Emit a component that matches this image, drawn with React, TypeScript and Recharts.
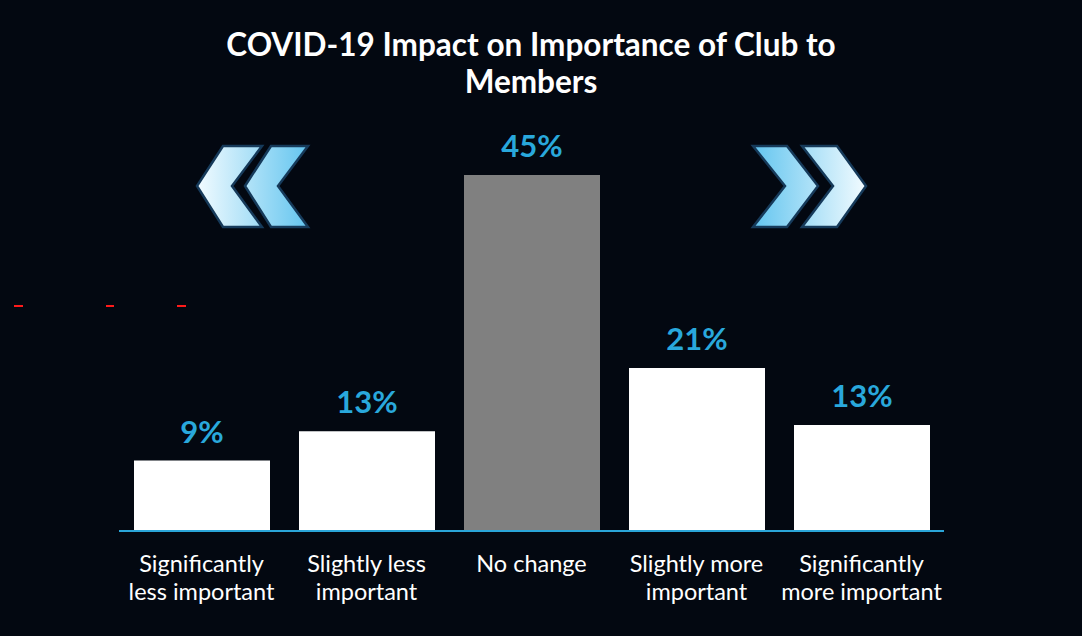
import React from "react";
import { BarChart, Bar, XAxis, YAxis, LabelList, Cell } from "recharts";

const categories = [
  "Significantly less important",
  "Slightly less important",
  "No change",
  "Slightly more important",
  "Significantly more important",
];
const categoryLines: string[][] = [
  ["Significantly", "less important"],
  ["Slightly less", "important"],
  ["No change"],
  ["Slightly more", "important"],
  ["Significantly", "more important"],
];
const values = [8.9, 12.6, 45.0, 20.6, 13.4];
const labels = ["9%", "13%", "45%", "21%", "13%"];
const barColors = ["#ffffff", "#ffffff", "#808080", "#ffffff", "#ffffff"];

const data = categories.map((c, i) => ({ name: c, value: values[i], label: labels[i] }));

const BG = "#030811";

const Tick = (props: any) => {
  const { x, y, payload } = props;
  const idx = categories.indexOf(payload.value);
  const lines = idx >= 0 ? categoryLines[idx] : [payload.value];
  return (
    <g transform={`translate(${x},${y})`}>
      {lines.map((l, i) => (
        <text
          key={i}
          x={0}
          y={33 + i * 28}
          textAnchor="middle"
          fill="#ffffff"
          fontSize={23.5}
          fontFamily="Lato, sans-serif"
        >
          {l}
        </text>
      ))}
    </g>
  );
};

export default function App() {
  return (
    <div
      style={{
        position: "absolute",
        left: 0,
        top: 0,
        width: 1082,
        height: 636,
        background: BG,
        overflow: "hidden",
      }}
    >
      <svg
        width={1082}
        height={636}
        style={{ position: "absolute", left: 0, top: 0 }}
      >
        <defs>
          <linearGradient id="gl" x1="197" y1="0" x2="308" y2="0" gradientUnits="userSpaceOnUse">
            <stop offset="0" stopColor="#f2fbff" />
            <stop offset="1" stopColor="#63c5ef" />
          </linearGradient>
          <linearGradient id="gr" x1="753" y1="0" x2="866" y2="0" gradientUnits="userSpaceOnUse">
            <stop offset="0" stopColor="#63c5ef" />
            <stop offset="1" stopColor="#f2fbff" />
          </linearGradient>
        </defs>
        <text x={531} y={56} textAnchor="middle" fill="#ffffff" fontSize={31.5} fontWeight={700} fontFamily="Lato, sans-serif">
          COVID-19 Impact on Importance of Club to
        </text>
        <text x={531} y={93} textAnchor="middle" fill="#ffffff" fontSize={31.5} fontWeight={700} fontFamily="Lato, sans-serif">
          Members
        </text>
        <g stroke="#163a5a" strokeWidth={2.5} strokeLinejoin="miter">
          <polygon points="197,186 223,146 262,146 232,186 262,227 223,227" fill="url(#gl)" />
          <polygon points="245,186 271,146 308,146 278,186 308,227 271,227" fill="url(#gl)" />
          <polygon points="753,146 787,146 818,186 787,227 753,227 785,186" fill="url(#gr)" />
          <polygon points="802,146 837,146 866,186 837,227 802,227 833,186" fill="url(#gr)" />
        </g>
        <g stroke="#ff1a1a" strokeWidth={2}>
          <line x1={14} y1={306} x2={23} y2={306} />
          <line x1={106} y1={306} x2={114} y2={306} />
          <line x1={177} y1={306} x2={186} y2={306} />
        </g>
      </svg>
      <div style={{ position: "absolute", left: 0, top: 0 }}>
        <BarChart
          width={1082}
          height={636}
          data={data}
          margin={{ top: 175, right: 138, bottom: 0, left: 119 }}
        >
          <YAxis hide domain={[0, 45]} allowDataOverflow />
          <XAxis
            dataKey="name"
            height={105}
            axisLine={{ stroke: "#2aa5d8", strokeWidth: 2 }}
            tickLine={false}
            interval={0}
            tick={<Tick />}
          />
          <Bar dataKey="value" barSize={136} isAnimationActive={false}>
            {data.map((d, i) => (
              <Cell key={i} fill={barColors[i]} />
            ))}
            <LabelList
              dataKey="label"
              position="top"
              offset={18}
              fill="#29a8dc"
              fontSize={31}
              fontWeight={700}
              fontFamily="Lato, sans-serif"
            />
          </Bar>
        </BarChart>
      </div>
    </div>
  );
}
